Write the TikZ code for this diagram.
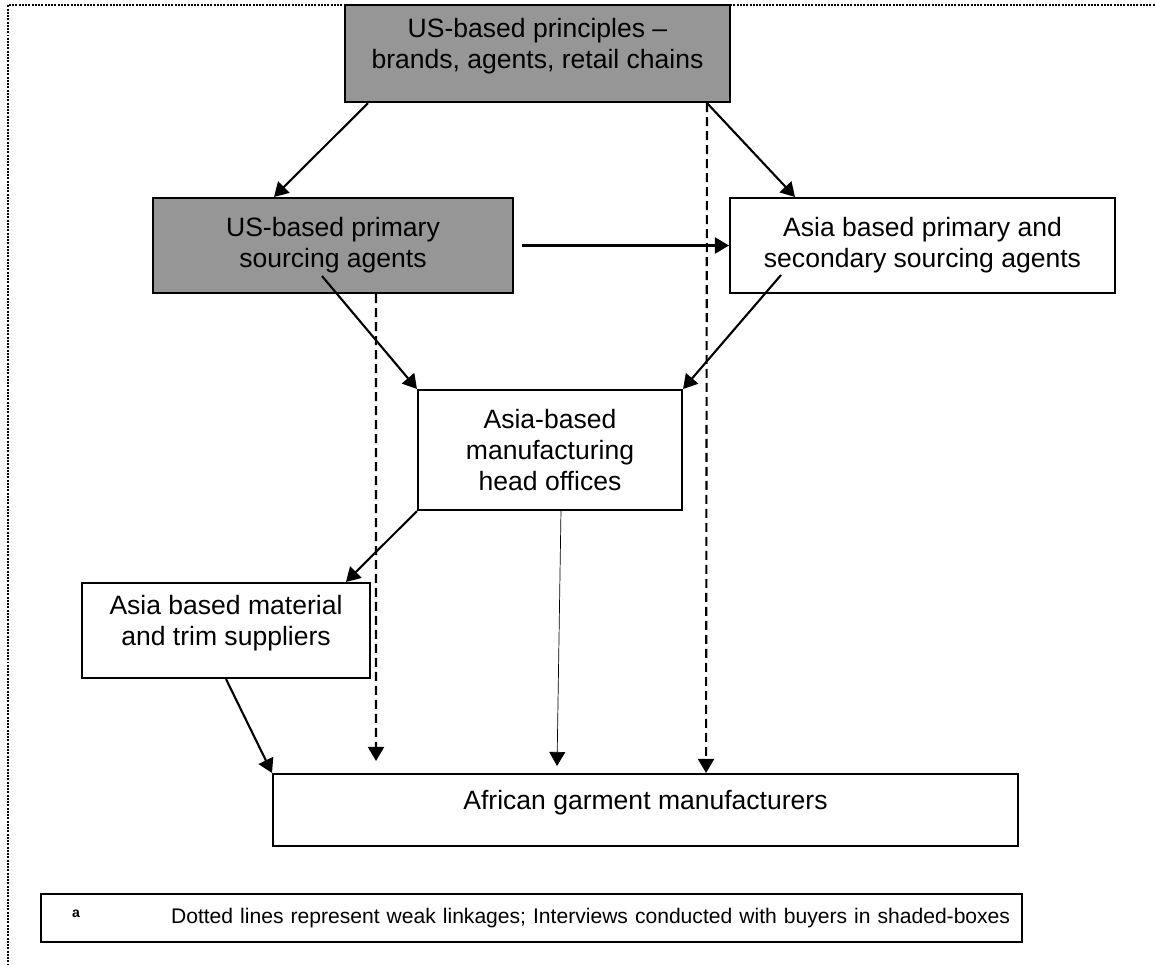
\documentclass[tikz,border=0pt]{standalone}
\usepackage{fontspec}
\setmainfont{Liberation Sans}
\usepackage[]{tikz}
\usetikzlibrary{calc}
\usetikzlibrary{arrows.meta}
\definecolor{shade}{RGB}{150,150,150}
\tikzset{box/.style={draw,line width=1.2pt,align=center,inner sep=0pt,font=\fontsize{15.1}{17.6}\selectfont}}
\tikzset{shaded/.style={box,fill=shade}}
\tikzset{link/.style={line width=1.2pt,-{Triangle[length=0.28cm,width=0.32cm]}}}
\tikzset{weak/.style={link,dash pattern=on 0.18cm off 0.1cm}}
\tikzset{frame/.style={line width=0.9pt,dash pattern=on 0.04cm off 0.025cm}}

\begin{document}
\begin{tikzpicture}[x=0.02cm,y=-0.02cm]
            \useasboundingbox (0,0) rectangle (1156,964);
            \draw[frame] (1200,5) -- (8,5) -- (8,1000);
            \node[shaded,minimum width=7.7cm,minimum height=1.94cm] (prin) at (537.5,53.5) {US-based principles --\\brands, agents, retail chains\\[-0.2cm]};
            \node[shaded,minimum width=7.2cm,minimum height=1.9cm] (usag) at (333,245.5) {US-based primary\\sourcing agents};
            \node[box,minimum width=7.7cm,minimum height=1.9cm] (asag) at (922.5,245.5) {Asia based primary and\\secondary sourcing agents};
            \node[box,minimum width=5.28cm,minimum height=2.4cm] (hq) at (550,450) {Asia-based\\manufacturing\\head offices};
            \node[box,minimum width=5.76cm,minimum height=1.9cm] (supp) at (226,630.5) {Asia based material\\and trim suppliers\\[-0.2cm]};
            \node[box,minimum width=14.9cm,minimum height=1.44cm] (afr) at (645.5,810) {African garment manufacturers\\[-0.2cm]};
            \node[box,font=\fontsize{12}{14}\selectfont,text width=19.62cm,align=left,minimum height=0.96cm] (note) at (531.5,918)
                {\makebox[2.6cm][l]{\hspace{0.62cm}\raisebox{0.12cm}{\fontsize{8}{8}\selectfont\bfseries a}}Dotted lines represent weak linkages; Interviews conducted with buyers in shaded-boxes};
            \draw[link] ($(prin.south west)+(24,0)$) -- ($(usag.north west)+(122,0)$);
            \draw[link] ($(prin.south east)+(-24,0)$) -- ($(asag.north west)+(66,0)$);
            \draw[link] ($(usag.east)+(8,0)$) -- (asag.west);
            \draw[link] ($(usag.south west)+(170,-18)$) -- (hq.north west);
            \draw[link] ($(asag.south west)+(52,-19)$) -- (hq.north east);
            \draw[link] (hq.south west) -- ($(supp.north west)+(265,0)$);
            \draw[link] (supp.south) -- (afr.north west);
            \draw[link,line width=0.4pt] ($(hq.south west)+(144,0)$) -- ($(afr.north west)+(285,-7)$);
            \draw[weak] ($(usag.south east)+(-138,0)$) -- ($(afr.north west)+(104,-12)$);
            \draw[weak] ($(prin.south east)+(-24,0)$) -- ($(afr.north west)+(434,0)$);
        \end{tikzpicture}
\end{document}
